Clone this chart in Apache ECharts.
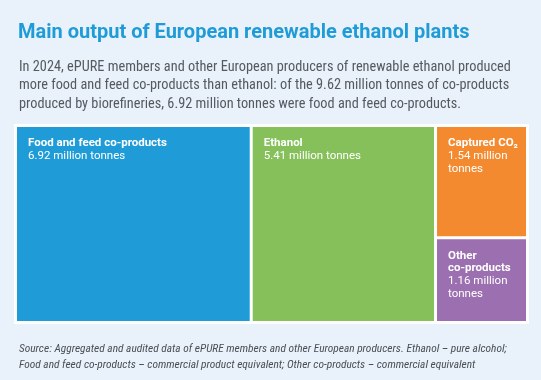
<!DOCTYPE html>
<html>
<head>
<meta charset="utf-8">
<script src="https://cdn.jsdelivr.net/npm/echarts@6/dist/echarts.min.js"></script>
<style>
html,body{margin:0;padding:0;background:#e9f1fa;}
#c{width:541px;height:380px;}
</style>
</head>
<body>
<div id="c"></div>
<script>
const categories = ['Food and feed co-products', 'Ethanol', 'Captured CO₂', 'Other co-products'];
const values = [6.92, 5.41, 1.54, 1.16];
const unit = 'million tonnes';
const colors = ['#1f9cd8', '#86c05a', '#f48a30', '#9b6fb0'];
const titleText = 'Main output of European renewable ethanol plants';
const subtitleLines = [
  'In 2024, ePURE members and other European producers of renewable ethanol produced',
  'more food and feed co-products than ethanol: of the 9.62 million tonnes of co-products',
  'produced by biorefineries, 6.92 million tonnes were food and feed co-products.'
];
const sourceLines = [
  'Source: Aggregated and audited data of ePURE members and other European producers. Ethanol – pure alcohol;',
  'Food and feed co-products – commercial product equivalent; Other co-products – commercial equivalent'
];

const chart = echarts.init(document.getElementById('c'), null, {renderer: 'canvas'});

function wrapLabel(name, value) {
  const small = value < 2;
  const nameLines = small && name.indexOf(' ') > 0 && name.indexOf('CO') < 0 ? name.split(' ') : [name];
  const valLines = small ? [value.toFixed(2) + ' million', 'tonnes'] : [value.toFixed(2) + ' ' + unit];
  return nameLines.map(s => '{b|' + s + '}').concat(valLines.map(s => '{v|' + s + '}')).join('\n');
}

const data = categories.map((n, i) => ({
  name: n,
  value: values[i],
  itemStyle: {color: colors[i]},
  label: {formatter: () => wrapLabel(n, values[i])}
}));

chart.setOption({
  backgroundColor: '#e9f1fa',
  title: [
    {text: titleText, left: 13, top: 18, textStyle: {fontFamily: 'Roboto', fontWeight: 'bold', fontSize: 20, color: '#1f9cd8'}},
    {text: subtitleLines.join('\n'), left: 14, top: 53, textStyle: {fontFamily: 'Roboto Condensed', fontWeight: 'normal', fontSize: 14.3, lineHeight: 18.5, color: '#555a5f'}},
    {text: sourceLines.join('\n'), left: 14, top: 336, textStyle: {fontFamily: 'Roboto Condensed', fontStyle: 'italic', fontWeight: 'normal', fontSize: 11.4, lineHeight: 16, color: '#4a4f55'}}
  ],
  series: [{
    type: 'treemap',
    left: 14, top: 124, width: 515, height: 200,
    roam: false,
    nodeClick: false,
    breadcrumb: {show: false},
    animation: false,
    data: data,
    label: {
      show: true,
      position: 'insideTopLeft',
      padding: [10, 11],
      overflow: 'none',
      lineHeight: 12.8,
      rich: {
        b: {fontFamily: 'Roboto', fontWeight: 'bold', fontSize: 11.5, color: '#fff', lineHeight: 12.8},
        v: {fontFamily: 'Roboto', fontWeight: 'normal', fontSize: 11.5, color: '#fff', lineHeight: 12.8}
      }
    },
    levels: [
      {itemStyle: {borderWidth: 3, borderColor: '#ffffff', gapWidth: 3}},
      {itemStyle: {borderWidth: 0, gapWidth: 0}}
    ]
  }]
});
</script>
</body>
</html>
